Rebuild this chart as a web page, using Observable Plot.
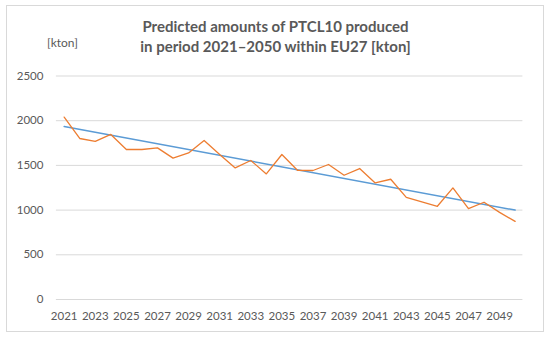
<!DOCTYPE html>
<html>
<head>
<meta charset="utf-8">
<script src="https://cdn.jsdelivr.net/npm/d3@7"></script>
<script src="https://cdn.jsdelivr.net/npm/@observablehq/plot@0.6"></script>
<style>
  body { margin: 0; background: #fff; }
  #wrap { position: relative; width: 550px; height: 340px; font-family: Lato, "Open Sans", sans-serif; color: #595959; }
  #frame { position: absolute; left: 6px; top: 5px; width: 538px; height: 327px; border: 1px solid #d9d9d9; box-sizing: border-box; }
  #title { position: absolute; left: 0; top: 17px; width: 551px; text-align: center; font-size: 15px; font-weight: bold; line-height: 19.5px; color: #595959; }
  #unit { position: absolute; left: 47px; top: 35px; font-size: 12px; color: #595959; }
  #chart { position: absolute; left: 0; top: 0; }
</style>
</head>
<body>
<div id="wrap">
  <div id="frame"></div>
  <div id="title">Predicted amounts of PTCL10 produced<br>in period 2021–2050 within EU27 [kton]</div>
  <div id="unit">[kton]</div>
  <div id="chart"></div>
</div>
<script>
const years = [2021, 2022, 2023, 2024, 2025, 2026, 2027, 2028, 2029, 2030,
               2031, 2032, 2033, 2034, 2035, 2036, 2037, 2038, 2039, 2040,
               2041, 2042, 2043, 2044, 2045, 2046, 2047, 2048, 2049, 2050];
const amounts = [2040, 1801, 1768, 1846, 1678, 1678, 1696, 1581, 1640, 1779,
                 1622, 1472, 1555, 1405, 1622, 1446, 1443, 1510, 1390, 1465,
                 1304, 1345, 1143, 1091, 1043, 1248, 1017, 1088, 975, 874];
const trendYears = [2021, 2050];
const trendValues = [1936, 1000];
const xTicks = [2021, 2023, 2025, 2027, 2029, 2031, 2033, 2035, 2037, 2039, 2041, 2043, 2045, 2047, 2049];
const yTicks = [0, 500, 1000, 1500, 2000, 2500];

const data = years.map((y, i) => ({year: y, value: amounts[i]}));
const trend = trendYears.map((y, i) => ({year: y, value: trendValues[i]}));

const chart = Plot.plot({
  width: 550,
  height: 340,
  marginLeft: 55.9,
  marginRight: 27.6,
  marginTop: 75.5,
  marginBottom: 41,
  style: { fontFamily: "Lato, 'Open Sans', sans-serif", fontSize: "11.5px", color: "#595959", background: "transparent" },
  x: { domain: [2020.5, 2050.5], ticks: xTicks, tickFormat: d => String(d), tickSize: 0, tickPadding: 12, label: null },
  y: { domain: [0, 2500], ticks: yTicks, tickFormat: d => String(d), tickSize: 0, tickPadding: 13, label: null },
  marks: [
    Plot.ruleY(yTicks, { stroke: "#d9d9d9", strokeWidth: 1 }),
    Plot.line(trend, { x: "year", y: "value", stroke: "#5B9BD5", strokeWidth: 1.5 }),
    Plot.line(data, { x: "year", y: "value", stroke: "#ED7D31", strokeWidth: 1.3 })
  ]
});
document.getElementById("chart").appendChild(chart);
</script>
</body>
</html>
